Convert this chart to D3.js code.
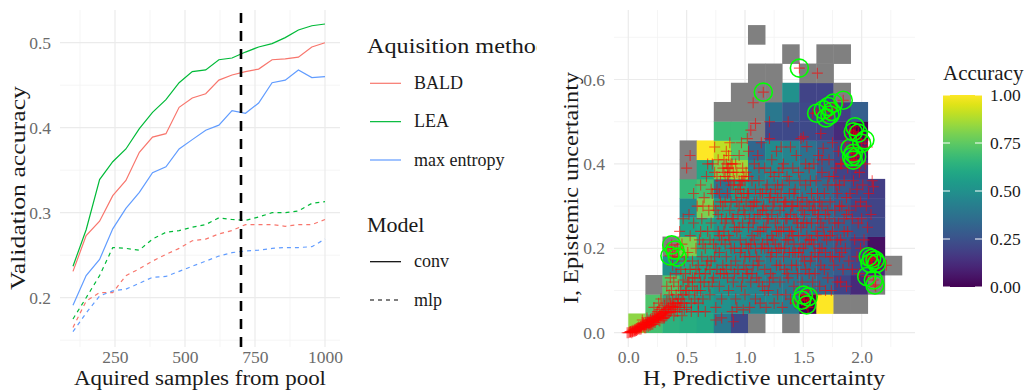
<!DOCTYPE html>
<html><head><meta charset="utf-8">
<script src="https://cdn.jsdelivr.net/npm/d3@7"></script>
<style>
body{margin:0;background:#fff}
svg{display:block}
text{font-family:"Liberation Serif","DejaVu Serif",serif}
</style>
</head><body>
<svg id="c" width="1033" height="391" font-family="Liberation Serif, DejaVu Serif, serif"></svg>
<script>
// ---------- LEFT PANEL DATA ----------
const samples = [100,147,195,242,289,337,384,432,479,526,574,621,668,716,763,811,858,905,953,1000];
const methods = ["BALD","LEA","max entropy"];
const methodColors = ["#F8766D","#00BA38","#619CFF"];
const models = ["conv","mlp"];
const convBALD   = [0.231,0.273,0.290,0.320,0.338,0.371,0.389,0.393,0.424,0.435,0.440,0.456,0.462,0.466,0.469,0.480,0.481,0.483,0.495,0.500];
const convLEA    = [0.237,0.280,0.339,0.360,0.375,0.399,0.418,0.433,0.453,0.466,0.468,0.480,0.482,0.489,0.495,0.499,0.506,0.515,0.520,0.522];
const convMaxEnt = [0.191,0.226,0.245,0.281,0.305,0.324,0.347,0.354,0.375,0.386,0.397,0.403,0.420,0.417,0.429,0.453,0.456,0.468,0.459,0.460];
const mlpBALD    = [0.165,0.196,0.206,0.206,0.226,0.234,0.243,0.251,0.258,0.267,0.269,0.275,0.279,0.286,0.286,0.286,0.284,0.286,0.286,0.292];
const mlpLEA     = [0.175,0.200,0.226,0.259,0.258,0.256,0.269,0.277,0.279,0.283,0.286,0.294,0.292,0.291,0.295,0.300,0.300,0.302,0.311,0.313];
const mlpMaxEnt  = [0.160,0.182,0.202,0.208,0.210,0.217,0.224,0.225,0.231,0.237,0.243,0.249,0.253,0.255,0.256,0.258,0.259,0.259,0.260,0.269];
const poolCutoff = 700;
const leftXTicks = [250,500,750,1000];
const leftXMinor = [125,375,625,875];
const leftYTicks = [0.2,0.3,0.4,0.5];
const leftYMinor = [0.15,0.25,0.35,0.45];

// ---------- RIGHT PANEL DATA ----------
const hBinWidth = 0.14653, iBinHeight = 0.04556;
const NA = "NA", _ = null;
// rows = I bins from 0 upward, columns = H bins from 0 rightward; value = accuracy
const accGrid = [
 [0.83,0.70,0.64,0.62,0.60,0.40,0.22,NA,_,NA,_,_,_,_,_,_],
 [_,0.72,0.62,0.58,0.55,0.50,0.48,0.45,0.47,0.41,0.0,1.0,NA,NA,_,_],
 [_,NA,0.73,0.60,0.55,0.50,0.48,0.45,0.42,0.40,0.38,0.33,0.20,0.12,NA,_],
 [_,_,0.50,0.60,0.55,0.50,0.48,0.45,0.42,0.40,0.36,0.32,0.28,0.22,0.10,NA],
 [_,_,NA,0.80,0.60,0.52,0.48,0.45,0.42,0.40,0.36,0.32,0.28,0.20,0.04,_],
 [_,_,_,0.58,0.60,0.52,0.50,0.45,0.43,0.40,0.37,0.33,0.30,0.26,0.22,_],
 [_,_,_,0.47,0.80,0.55,0.50,0.46,0.44,0.40,0.37,0.34,0.30,0.22,0.20,_],
 [_,_,_,0.67,0.70,0.38,0.55,0.47,0.44,0.42,0.40,0.35,0.28,0.22,0.18,_],
 [_,_,_,NA,0.60,0.80,0.85,0.43,0.47,0.45,0.41,0.30,0.20,0.18,_,_],
 [_,_,_,NA,1.0,0.90,0.73,0.33,0.48,0.45,0.37,0.30,0.22,0.08,_,_],
 [_,_,_,_,_,0.68,0.68,NA,0.22,0.22,0.22,0.20,0.12,0.0,_,_],
 [_,_,_,_,_,NA,NA,NA,0.40,0.28,0.22,0.20,0.18,0.30,_,_],
 [_,_,_,_,_,_,NA,NA,NA,0.50,0.20,0.20,NA,_,_,_],
 [_,_,_,_,_,_,_,NA,NA,_,NA,NA,_,_,_,_],
 [_,_,_,_,_,_,_,_,_,NA,_,NA,NA,_,_,_],
 [_,_,_,_,_,_,_,NA,_,_,_,_,_,_,_,_]
];
const uncertaintyPoints = [
 [0.00,0.000],[0.01,0.001],[0.02,0.003],[0.02,0.001],[0.03,0.004],[0.04,0.002],[0.04,0.006],[0.05,0.005],[0.06,0.008],[0.06,0.004],[0.07,0.010],[0.08,0.007],[0.08,0.012],[0.09,0.009],[0.09,0.014],[-0.01,0.000],[0.03,0.000],
 [0.10,0.012],[0.11,0.016],[0.11,0.009],[0.12,0.020],[0.13,0.014],[0.13,0.022],[0.14,0.018],[0.15,0.025],[0.15,0.012],[0.16,0.020],[0.17,0.028],[0.17,0.015],[0.18,0.024],[0.19,0.032],[0.19,0.018],[0.12,0.030],[0.16,0.035],
 [0.20,0.026],[0.21,0.035],[0.21,0.020],[0.22,0.030],[0.23,0.040],[0.23,0.024],[0.24,0.045],[0.25,0.032],[0.25,0.050],[0.26,0.038],[0.27,0.028],[0.27,0.055],[0.28,0.042],[0.29,0.060],[0.29,0.034],[0.22,0.060],[0.26,0.070],[0.28,0.080],
 [0.30,0.045],[0.31,0.065],[0.31,0.035],[0.32,0.050],[0.33,0.075],[0.33,0.040],[0.34,0.058],[0.35,0.090],[0.35,0.048],[0.36,0.070],[0.37,0.100],[0.37,0.055],[0.38,0.080],[0.39,0.120],[0.39,0.062],[0.33,0.110],[0.36,0.130],[0.38,0.160],[0.34,0.200],[0.38,0.190],
 [0.40,0.050],[0.41,0.090],[0.41,0.140],[0.42,0.070],[0.43,0.110],[0.43,0.180],[0.44,0.060],[0.45,0.100],[0.45,0.150],[0.46,0.080],[0.46,0.210],[0.47,0.125],[0.48,0.070],[0.48,0.170],[0.49,0.100],[0.42,0.200],[0.44,0.240],[0.47,0.270],[0.49,0.140],
 [0.50,0.060],[0.51,0.120],[0.51,0.190],[0.52,0.090],[0.53,0.150],[0.53,0.230],[0.54,0.070],[0.55,0.110],[0.55,0.170],[0.56,0.260],[0.57,0.130],[0.57,0.080],[0.58,0.200],[0.59,0.100],[0.59,0.300],[0.52,0.280],[0.56,0.330],[0.58,0.150],
 [0.60,0.070],[0.61,0.140],[0.61,0.220],[0.62,0.100],[0.63,0.180],[0.63,0.270],[0.64,0.080],[0.65,0.120],[0.65,0.320],[0.66,0.200],[0.67,0.160],[0.67,0.370],[0.68,0.240],[0.69,0.110],[0.69,0.290],[0.62,0.350],[0.66,0.050],[0.68,0.400],
 [0.70,0.090],[0.71,0.170],[0.71,0.260],[0.72,0.330],[0.73,0.130],[0.73,0.210],[0.74,0.380],[0.75,0.060],[0.75,0.290],[0.76,0.150],[0.76,0.340],[0.77,0.240],[0.77,0.410],[0.78,0.110],[0.78,0.190],[0.79,0.310],[0.79,0.360],[0.72,0.400],[0.74,0.440],[0.76,0.370],
 [0.80,0.080],[0.80,0.220],[0.81,0.390],[0.81,0.300],[0.82,0.140],[0.82,0.410],[0.83,0.260],[0.83,0.370],[0.84,0.180],[0.84,0.400],[0.85,0.330],[0.85,0.390],[0.86,0.100],[0.86,0.230],[0.86,0.420],[0.87,0.380],[0.87,0.290],[0.88,0.160],[0.88,0.350],[0.89,0.400],[0.89,0.050],[0.84,0.430],[0.87,0.450],[0.83,0.310],
 [0.90,0.120],[0.90,0.270],[0.91,0.360],[0.91,0.200],[0.92,0.330],[0.92,0.080],[0.93,0.240],[0.93,0.380],[0.94,0.150],[0.94,0.340],[0.95,0.300],[0.95,0.360],[0.96,0.190],[0.96,0.350],[0.97,0.110],[0.97,0.320],[0.98,0.360],[0.98,0.260],[0.99,0.370],[0.99,0.160],[0.95,0.420],[0.97,0.450],[0.93,0.060],
 [1.00,0.090],[1.00,0.280],[1.01,0.210],[1.01,0.380],[1.02,0.140],[1.02,0.330],[1.03,0.250],[1.03,0.430],[1.04,0.180],[1.04,0.060],[1.05,0.300],[1.05,0.120],[1.06,0.360],[1.06,0.230],[1.07,0.545],[1.07,0.160],[1.08,0.270],[1.08,0.400],[1.09,0.080],[1.09,0.200],[1.09,0.496],[1.02,0.460],[1.05,0.480],
 [1.10,0.130],[1.10,0.310],[1.11,0.240],[1.11,0.420],[1.12,0.170],[1.12,0.360],[1.13,0.070],[1.13,0.280],[1.14,0.200],[1.14,0.450],[1.15,0.110],[1.15,0.330],[1.16,0.250],[1.17,0.150],[1.17,0.390],[1.18,0.290],[1.18,0.060],[1.19,0.220],[1.19,0.350],
 [1.20,0.100],[1.20,0.270],[1.21,0.500],[1.21,0.460],[1.22,0.180],[1.22,0.330],[1.23,0.230],[1.23,0.410],[1.24,0.130],[1.24,0.300],[1.25,0.070],[1.25,0.370],[1.26,0.210],[1.26,0.260],[1.27,0.160],[1.27,0.430],[1.28,0.320],[1.28,0.090],[1.29,0.240],[1.29,0.380],
 [1.30,0.120],[1.30,0.290],[1.31,0.440],[1.31,0.200],[1.32,0.350],[1.32,0.060],[1.33,0.250],[1.33,0.400],[1.34,0.150],[1.34,0.310],[1.35,0.090],[1.35,0.220],[1.36,0.370],[1.36,0.270],[1.37,0.500],[1.37,0.130],[1.38,0.330],[1.38,0.190],[1.39,0.440],[1.39,0.080],
 [1.40,0.240],[1.40,0.160],[1.41,0.300],[1.41,0.390],[1.42,0.110],[1.42,0.210],[1.43,0.340],[1.43,0.070],[1.44,0.270],[1.44,0.420],[1.45,0.140],[1.45,0.310],[1.46,0.190],[1.47,0.360],[1.47,0.090],[1.48,0.250],[1.48,0.460],[1.49,0.120],[1.49,0.320],
 [1.50,0.200],[1.50,0.464],[1.51,0.280],[1.51,0.080],[1.52,0.350],[1.52,0.150],[1.53,0.441],[1.53,0.230],[1.54,0.100],[1.54,0.060],[1.55,0.300],[1.55,0.390],[1.56,0.170],[1.56,0.075],[1.57,0.260],[1.57,0.330],[1.58,0.520],[1.58,0.120],[1.59,0.210],[1.59,0.400],
 [1.60,0.290],[1.60,0.140],[1.61,0.360],[1.61,0.090],[1.62,0.615],[1.62,0.230],[1.63,0.180],[1.63,0.420],[1.64,0.310],[1.64,0.110],[1.65,0.472],[1.65,0.260],[1.66,0.200],[1.66,0.380],[1.67,0.437],[1.68,0.150],[1.68,0.330],[1.69,0.280],[1.69,0.100],
 [1.70,0.220],[1.71,0.350],[1.71,0.130],[1.72,0.410],[1.72,0.270],[1.73,0.180],[1.73,0.310],[1.74,0.100],[1.75,0.240],[1.75,0.450],[1.76,0.370],[1.76,0.160],[1.77,0.290],[1.77,0.530],[1.78,0.200],[1.78,0.390],[1.79,0.120],[1.79,0.330],
 [1.80,0.260],[1.80,0.430],[1.81,0.180],[1.81,0.350],[1.82,0.220],[1.82,0.120],[1.83,0.300],[1.83,0.400],[1.84,0.150],[1.85,0.270],[1.85,0.360],[1.86,0.200],[1.86,0.450],[1.87,0.320],[1.87,0.110],[1.88,0.240],[1.88,0.390],[1.89,0.170],[1.89,0.290],
 [1.90,0.480],[1.91,0.470],[1.93,0.440],[1.93,0.360],[1.94,0.410],[1.94,0.220],[1.95,0.300],[1.95,0.460],[1.96,0.180],[1.96,0.340],[1.97,0.260],[1.97,0.430],[1.98,0.140],[1.98,0.380],[1.99,0.310],[1.99,0.200],[1.92,0.150],
 [2.00,0.270],[2.01,0.350],[2.02,0.220],[2.03,0.400],[2.03,0.170],[2.04,0.300],[2.05,0.440],[2.05,0.250],[2.06,0.190],[2.08,0.180],[2.09,0.360],[2.09,0.160],[2.10,0.346],[2.12,0.150],[2.12,0.110],[2.14,0.180],[2.06,0.330],[2.08,0.280],[2.21,0.160],
 [0.72,0.120],[0.74,0.180],[0.78,0.230],[0.81,0.160],[0.83,0.210],[0.85,0.130],[0.88,0.200],[0.91,0.250],[0.92,0.170],[0.94,0.280],[0.96,0.220],[0.98,0.130],[1.00,0.180],[1.01,0.310],[1.03,0.200],[1.04,0.270],[1.06,0.140],[1.07,0.300],[1.08,0.220],[1.10,0.180],
 [1.11,0.280],[1.12,0.120],[1.13,0.330],[1.15,0.210],[1.16,0.300],[1.17,0.100],[1.18,0.250],[1.20,0.200],[1.21,0.320],[1.22,0.140],[1.23,0.280],[1.24,0.220],[1.26,0.340],[1.27,0.190],[1.28,0.270],[1.30,0.160],[1.31,0.240],[1.33,0.300],[1.34,0.200],[1.35,0.270],
 [1.36,0.140],[1.38,0.240],[1.40,0.300],[1.41,0.190],[1.42,0.270],[1.44,0.160],[1.46,0.230],[1.47,0.300],[1.49,0.180],[1.50,0.260],[1.52,0.210],[1.53,0.310],[1.55,0.140],[1.57,0.220],[1.58,0.290],[1.60,0.190],[1.62,0.270],[1.64,0.200],[1.66,0.300],[1.68,0.230],
 [0.70,0.220],[0.73,0.300],[0.77,0.280],[0.79,0.140],[0.82,0.380],[0.84,0.270],[0.86,0.360],[0.88,0.310],[0.90,0.380],[0.92,0.400],[0.85,0.370],[0.86,0.390],[0.88,0.400],[0.90,0.350],[0.96,0.340],[0.97,0.360],[0.99,0.330],[0.98,0.390],[1.00,0.360],
 [0.60,0.160],[0.62,0.120],[0.64,0.210],[0.66,0.140],[0.68,0.170],[0.55,0.130],[0.57,0.100],[0.50,0.100],[0.52,0.120],[0.47,0.090],[0.45,0.070],[0.43,0.080],[0.40,0.070],[0.38,0.060],[0.36,0.050],[0.34,0.045],[0.32,0.040],[0.30,0.035],[0.28,0.035],[0.26,0.030],
 [0.24,0.030],[0.22,0.025],[0.20,0.020],[0.18,0.018],[0.14,0.012],[0.10,0.008],[0.07,0.005],[0.05,0.003],[0.42,0.050],[0.48,0.055],[0.54,0.050],[0.60,0.050],[0.46,0.040],[0.39,0.040],[0.90,0.026],[0.80,0.035],[0.75,0.030],[0.985,0.054],[0.50,0.390],[0.53,0.420],
 [0.015,0.002],[0.035,0.003],[0.055,0.007],[0.065,0.006],[0.075,0.008],[0.085,0.010],[0.095,0.012],[0.105,0.014],[0.115,0.013],[0.125,0.016],[0.135,0.019],[0.145,0.020],[0.155,0.018],[0.165,0.024],[0.175,0.022],[0.185,0.027],[0.195,0.025],[0.205,0.030],
 [0.215,0.028],[0.225,0.034],[0.235,0.032],[0.245,0.038],[0.255,0.036],[0.265,0.042],[0.275,0.040],[0.285,0.046],[0.295,0.044],[0.305,0.050],[0.315,0.048],[0.325,0.055],[0.345,0.060],[0.365,0.063],[0.385,0.068],[0.405,0.060],[0.425,0.065],
 [0.62,0.240],[0.64,0.300],[0.70,0.150],[0.71,0.340],[0.75,0.200],[0.78,0.330],[0.80,0.270],[0.82,0.240],[0.84,0.150],[0.87,0.220],[0.89,0.270],[0.91,0.140],[0.93,0.310],[0.95,0.250],[0.97,0.200],[0.99,0.290],[1.01,0.150],[1.03,0.330],[1.05,0.210],[1.07,0.260],
 [1.09,0.340],[1.11,0.160],[1.13,0.240],[1.15,0.290],[1.17,0.200],[1.19,0.270],[1.21,0.120],[1.23,0.190],[1.25,0.310],[1.27,0.240],[1.29,0.200],[1.31,0.330],[1.33,0.180],[1.35,0.310],[1.37,0.220],[1.39,0.280],[1.41,0.230],[1.43,0.190],[1.45,0.260],[1.47,0.200],
 [1.49,0.290],[1.51,0.170],[1.53,0.260],[1.55,0.220],[1.57,0.180],[1.59,0.310],[1.61,0.240],[1.63,0.280],[1.65,0.160],[1.67,0.250],[1.69,0.190],[1.71,0.290],[1.73,0.230],[1.75,0.180],[1.77,0.260],[1.79,0.220],[1.81,0.300],[1.83,0.190],[1.85,0.240],[1.87,0.280],
 [1.03,0.370],[1.08,0.310],[1.12,0.390],[1.18,0.340],[1.22,0.380],[1.28,0.350],[1.32,0.390],[1.38,0.360],[1.42,0.330],[1.46,0.380],[1.52,0.400],[1.56,0.360],[1.62,0.330],[1.66,0.410],[1.72,0.370],[1.78,0.350],[1.82,0.400],[1.90,0.330],[1.92,0.270],[1.95,0.390]
];
const circledPoints = [
 [1.466,0.627],[1.157,0.570],[1.614,0.520],[1.671,0.528],[1.714,0.536],[1.743,0.524],[1.757,0.544],[1.842,0.551],[1.728,0.516],[1.695,0.509],
 [1.943,0.488],[1.928,0.476],[1.971,0.473],[2.028,0.457],[2.000,0.449],[1.900,0.437],[1.928,0.425],[1.914,0.417],[1.957,0.417],[1.928,0.409],
 [0.372,0.208],[0.400,0.196],[0.357,0.182],[0.420,0.179],
 [1.500,0.089],[1.542,0.085],[1.529,0.066],[1.486,0.077],
 [2.057,0.180],[2.086,0.176],[2.114,0.172],[2.128,0.164],[2.071,0.164],[2.043,0.133],[2.114,0.113],[2.100,0.125]
];
const rightXTicks = [0,0.5,1,1.5,2];
const rightXMinor = [0.25,0.75,1.25,1.75,2.25];
const rightYTicks = [0,0.2,0.4,0.6];
const rightYMinor = [0.1,0.3,0.5,0.7];
const colorbarTicks = [0,0.25,0.5,0.75,1];

// ---------- DRAW ----------
const FONT = '"Liberation Serif","DejaVu Serif",serif';
const svg = d3.select("#c");
const defs = svg.append("defs");
defs.append("clipPath").attr("id","clipL").append("rect").attr("x",0).attr("y",0).attr("width",537).attr("height",391);
const gridMajor = "#EBEBEB", gridMinor = "#F3F3F3";
const tickCol = "#6b6b6b", titleCol = "#1a1a1a";

function addText(g, opts){
  const t = g.append("text").attr("fill",titleCol).style("font-family",FONT).style("font-size",opts.size+"px").text(opts.text);
  if(opts.transform) t.attr("transform",opts.transform); else t.attr("x",opts.x).attr("y",opts.y);
  if(opts.anchor) t.attr("text-anchor",opts.anchor);
  if(opts.dy) t.attr("dy",opts.dy);
  if(opts.len) t.attr("textLength",opts.len).attr("lengthAdjust","spacingAndGlyphs");
  return t;
}

// LEFT
const gL = svg.append("g").attr("clip-path","url(#clipL)");
const xL = d3.scaleLinear().domain([53.6,1053.6]).range([60,340]);
const yL = d3.scaleLinear().domain([0.142,0.5385]).range([347,10]);
function grid(g, x, y, xMaj, xMin, yMaj, yMin){
  const [x0,x1] = x.range(), [y0,y1] = y.range();
  g.selectAll(null).data(yMin).enter().append("line").attr("x1",x0).attr("x2",x1).attr("y1",d=>y(d)).attr("y2",d=>y(d)).attr("stroke",gridMinor).attr("stroke-width",0.8);
  g.selectAll(null).data(xMin).enter().append("line").attr("y1",y0).attr("y2",y1).attr("x1",d=>x(d)).attr("x2",d=>x(d)).attr("stroke",gridMinor).attr("stroke-width",0.8);
  g.selectAll(null).data(yMaj).enter().append("line").attr("x1",x0).attr("x2",x1).attr("y1",d=>y(d)).attr("y2",d=>y(d)).attr("stroke",gridMajor).attr("stroke-width",1.2);
  g.selectAll(null).data(xMaj).enter().append("line").attr("y1",y0).attr("y2",y1).attr("x1",d=>x(d)).attr("x2",d=>x(d)).attr("stroke",gridMajor).attr("stroke-width",1.2);
}
grid(gL, xL, yL, leftXTicks, leftXMinor, leftYTicks, leftYMinor);

const series = [
  {m:0, model:0, v:convBALD},{m:1, model:0, v:convLEA},{m:2, model:0, v:convMaxEnt},
  {m:0, model:1, v:mlpBALD},{m:1, model:1, v:mlpLEA},{m:2, model:1, v:mlpMaxEnt}
];
const line = d3.line().x((d,i)=>xL(samples[i])).y(d=>yL(d));
gL.selectAll(null).data(series).enter().append("path")
  .attr("d",d=>line(d.v)).attr("fill","none").attr("stroke",d=>methodColors[d.m])
  .attr("stroke-width",1.2).attr("stroke-dasharray",d=>d.model?"4,4":null);
gL.append("line").attr("x1",xL(poolCutoff)).attr("x2",xL(poolCutoff)).attr("y1",yL.range()[0]).attr("y2",yL.range()[1])
  .attr("stroke","#000").attr("stroke-width",2.6).attr("stroke-dasharray","10,8");

function styleAxis(g){ g.attr("font-family",null).attr("font-size",null); g.select(".domain").remove(); g.selectAll("text").attr("fill",tickCol).style("font-size","17.5px").style("font-family",FONT); }
svg.append("g").attr("transform","translate(60,0)").call(d3.axisLeft(yL).tickValues(leftYTicks).tickSize(0).tickPadding(9).tickFormat(d3.format(".1f"))).call(styleAxis);
svg.append("g").attr("transform","translate(0,347)").call(d3.axisBottom(xL).tickValues(leftXTicks).tickSize(0).tickPadding(4).tickFormat(d3.format("d"))).call(styleAxis);
addText(svg,{x:200,y:385,anchor:"middle",size:20,text:"Aquired samples from pool",len:252});
addText(svg,{transform:"translate(25,188) rotate(-90)",anchor:"middle",size:21,text:"Validation accuracy",len:204});

// left legend
addText(gL,{x:367,y:53,size:22,text:"Aquisition method",len:181});
const legY = d3.scalePoint().domain(methods).range([83.3,160]);
methods.forEach((m,i)=>{
  gL.append("line").attr("x1",370).attr("x2",401).attr("y1",legY(m)).attr("y2",legY(m)).attr("stroke",methodColors[i]).attr("stroke-width",1.2);
  addText(gL,{x:414,y:legY(m),dy:"0.32em",size:18,text:m});
});
addText(gL,{x:367,y:232,size:22,text:"Model"});
const modY = d3.scalePoint().domain(models).range([261.7,300]);
models.forEach((m,i)=>{
  gL.append("line").attr("x1",370).attr("x2",401).attr("y1",modY(m)).attr("y2",modY(m)).attr("stroke","#000").attr("stroke-width",1.2).attr("stroke-dasharray",i?"4,4":null);
  addText(gL,{x:414,y:modY(m),dy:"0.32em",size:18,text:m});
});

// RIGHT
const xR = d3.scaleLinear().domain([-0.1225,2.457]).range([614,915]);
const yR = d3.scaleLinear().domain([-0.0339,0.7647]).range([347,10]);
const gR = svg.append("g");
grid(gR, xR, yR, rightXTicks, rightXMinor, rightYTicks, rightYMinor);
const cells = [];
accGrid.forEach((row,r)=>row.forEach((v,c)=>{ if(v!==null) cells.push({r,c,v}); }));
gR.selectAll(null).data(cells).enter().append("rect")
  .attr("x",d=>xR(d.c*hBinWidth)).attr("width",d=>xR((d.c+1)*hBinWidth)-xR(d.c*hBinWidth)+0.4)
  .attr("y",d=>yR((d.r+1)*iBinHeight)).attr("height",d=>yR(d.r*iBinHeight)-yR((d.r+1)*iBinHeight)+0.4)
  .attr("fill",d=>d.v===NA?"#808080":d3.interpolateViridis(d.v));
const crossPath = "M-5.5,0H5.5M0,-5.5V5.5";
gR.selectAll(null).data(uncertaintyPoints.concat(circledPoints)).enter().append("path")
  .attr("d",crossPath).attr("transform",d=>`translate(${xR(d[0])},${yR(d[1])})`)
  .attr("stroke","#FF0000").attr("stroke-opacity",0.6).attr("stroke-width",1.1).attr("fill","none");
gR.selectAll(null).data(circledPoints).enter().append("circle")
  .attr("cx",d=>xR(d[0])).attr("cy",d=>yR(d[1])).attr("r",9)
  .attr("fill","none").attr("stroke","#00FF00").attr("stroke-width",1.6);

svg.append("g").attr("transform","translate(614,0)").call(d3.axisLeft(yR).tickValues(rightYTicks).tickSize(0).tickPadding(9).tickFormat(d3.format(".1f"))).call(styleAxis);
svg.append("g").attr("transform","translate(0,347)").call(d3.axisBottom(xR).tickValues(rightXTicks).tickSize(0).tickPadding(4).tickFormat(d3.format(".1f"))).call(styleAxis);
addText(svg,{x:764,y:385,anchor:"middle",size:20,text:"H, Predictive uncertainty",len:242});
addText(svg,{transform:"translate(578,188) rotate(-90)",anchor:"middle",size:21,text:"I, Epistemic uncertainty",len:232});

// colorbar
const yC = d3.scaleLinear().domain([0,1]).range([287,95]);
const grad = defs.append("linearGradient").attr("id","vir").attr("x1",0).attr("y1",1).attr("x2",0).attr("y2",0);
d3.range(0,21).forEach(i=>grad.append("stop").attr("offset",i/20).attr("stop-color",d3.interpolateViridis(i/20)));
svg.append("rect").attr("x",943).attr("y",yC(1)).attr("width",39).attr("height",yC(0)-yC(1)).attr("fill","url(#vir)");
colorbarTicks.forEach(t=>{
  svg.append("line").attr("x1",943).attr("x2",950).attr("y1",yC(t)).attr("y2",yC(t)).attr("stroke","#fff").attr("stroke-width",1);
  svg.append("line").attr("x1",975).attr("x2",982).attr("y1",yC(t)).attr("y2",yC(t)).attr("stroke","#fff").attr("stroke-width",1);
  addText(svg,{x:990,y:yC(t),dy:"0.35em",size:17.5,text:d3.format(".2f")(t)});
});
addText(svg,{x:943,y:80,size:21,text:"Accuracy"});
</script>
</body></html>
